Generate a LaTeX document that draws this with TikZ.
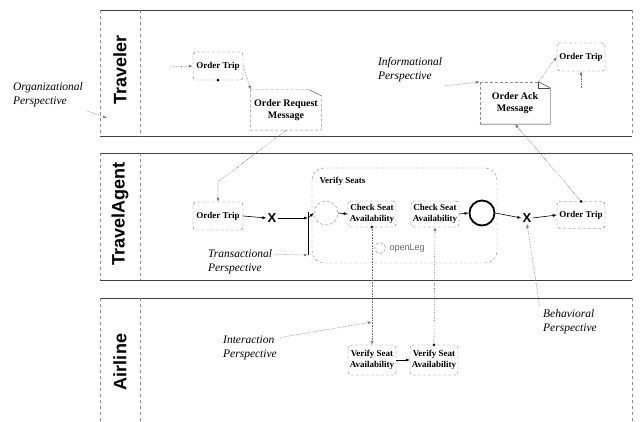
\documentclass[tikz,border=0pt]{standalone}
\usepackage{fontspec}
\setmainfont{Liberation Serif}
\setsansfont{Liberation Sans}
\usetikzlibrary{arrows.meta}
\begin{document}
\begin{tikzpicture}[x=1pt,y=-1pt,
  lane/.style={draw=black!75, line width=0.9pt},
  laneedge/.style={draw=black!45, dashed, line width=0.6pt},
  lanelabel/.style={font=\sffamily\bfseries\fontsize{18}{18}\selectfont, rotate=90},
  task/.style={draw=black!55, densely dashed, rounded corners=3pt, font=\bfseries\fontsize{9}{10.5}\selectfont, align=center, inner sep=1pt},
  msgdoc/.style={font=\bfseries\fontsize{10}{12}\selectfont, align=center, minimum width=68pt, minimum height=40pt},
  persp/.style={font=\itshape\fontsize{11.5}{14}\selectfont, align=left},
  flow/.style={draw=black, line width=0.6pt, -{Latex[length=4pt,width=3pt]}},
  msg/.style={draw=black!55, densely dotted, line width=0.6pt, -{Latex[length=4pt,width=3pt]}},
  assoc/.style={draw=black!50, densely dotted, line width=0.6pt, -{Latex[length=4pt,width=3pt]}},
  gw/.style={font=\sffamily\bfseries\fontsize{13}{13}\selectfont, inner sep=1pt},
  dotstart/.style={circle, fill=black, inner sep=0pt, minimum size=3pt}
]
\useasboundingbox (0,0) rectangle (640,422);
\fill[white] (0,0) rectangle (640,422);

% ---- lanes ----
\draw[lane] (100,10) -- (632,10);
\draw[lane] (100,136) -- (632,136);
\draw[laneedge] (100,10) -- (100,136);
\draw[laneedge] (140,10) -- (140,136);
\draw[laneedge] (632,10) -- (632,136);
\node[lanelabel] (lt) at (120,70) {Traveler};

\draw[lane] (100,153) -- (632,153);
\draw[lane] (100,280) -- (632,280);
\draw[laneedge] (100,153) -- (100,280);
\draw[laneedge] (140,153) -- (140,280);
\draw[laneedge] (632,153) -- (632,280);
\node[lanelabel] (la) at (120,214) {TravelAgent};

\draw[lane] (100,298) -- (632,298);
\draw[laneedge] (100,298) -- (100,422);
\draw[laneedge] (140,298) -- (140,422);
\draw[laneedge] (632,298) -- (632,422);
\node[lanelabel] (lair) at (120,362) {Airline};

% ---- Traveler ----
\node[task, minimum width=50pt, minimum height=28pt] (ot1) at (218,66) {Order Trip};
\coordinate (ot1in) at (170,67);
\draw[msg] (ot1in) -- (ot1.west);
\node[dotstart] (ot1d) at (ot1.south) {};

\node[msgdoc] (orm) at (286,110) {Order Request\\Message};
\draw[draw=black!45, densely dashed] (orm.north west) -- ([xshift=-12pt]orm.north east) -- ([yshift=-6pt]orm.north east) -- (orm.south east) -- (orm.south west) -- cycle;
\draw[black!70] ([xshift=-12pt]orm.north east) -- ([yshift=-6pt]orm.north east);
\draw[msg] (ot1.east) -- (orm.north west);

\node[persp] (pinf) at (410,70) {Informational\\Perspective};
\node[msgdoc, minimum width=70pt, minimum height=42pt] (oam) at (515,103) {Order Ack\\Message};
\draw[draw=black!45, densely dashed] (oam.north west) -- ([xshift=-12pt]oam.north east);
\draw[draw=black!45, densely dashed] (oam.north west) -- (oam.south west);
\draw[black!85] ([xshift=-12pt]oam.north east) -- ([yshift=-6pt]oam.north east) -- (oam.south east) -- (oam.south west);
\draw[black!70] ([xshift=-12pt]oam.north east) -- ([xshift=-12pt,yshift=-6pt]oam.north east) -- ([yshift=-6pt]oam.north east);
\draw[assoc] (pinf.south east) -- (oam.north west);

\node[task, minimum width=48pt, minimum height=28pt] (ot4) at (581,57) {Order Trip};
\draw[msg] ([xshift=-12pt]oam.north east) -- (ot4.west);

\node[persp] (porg) at (48,95) {Organizational\\Perspective};
\coordinate (orgpt) at (107,118);
\draw[assoc] (porg.south east) -- (orgpt);

% ---- TravelAgent ----
\node[task, minimum width=50pt, minimum height=28pt] (ot2) at (218,216) {Order Trip};
\coordinate (ormbend) at (218,182);
\draw[msg] (orm.south) -- (ormbend) -- (ot2.north);
\node[gw] (gw1) at (272,218) {X};
\coordinate (bartop) at (308,212);
\coordinate (barbot) at (308,255);
\coordinate (barmid) at (308,218);
\draw[flow] (ot2.east) -- (gw1.west);
\draw[flow] (gw1.east) -- (barmid);
\draw[black, line width=0.8pt] (bartop) -- (barbot);
\node[persp] (ptr) at (240,262) {Transactional\\Perspective};
\draw[assoc] ([yshift=-8pt]ptr.north east) -- (barbot);

\draw[draw=black!45, densely dashed, rounded corners=12pt] (312,168) rectangle (497,263);
\node[font=\bfseries\fontsize{9}{10}\selectfont, anchor=west] (vslbl) at (316,181) {Verify Seats};
\node[circle, draw=black!45, densely dashed, minimum size=24pt, inner sep=0pt] (se) at (326,213) {};
\draw[flow] (barmid) -- (se.west);
\node[task, minimum width=48pt, minimum height=26pt] (cs1) at (372,214) {Check Seat\\Availability};
\node[task, minimum width=48pt, minimum height=26pt] (cs2) at (435,214) {Check Seat\\Availability};
\node[circle, draw=black, line width=1.8pt, minimum size=25pt, inner sep=0pt] (ee) at (482,213) {};
\draw[flow] (se.east) -- (cs1.west);
\draw[flow] (cs2.east) -- (ee.west);
\node[gw] (gw2) at (527,218) {X};
\draw[flow] (ee.east) -- (gw2.west);
\node[task, minimum width=48pt, minimum height=27pt] (ot3) at (581,215) {Order Trip};
\draw[flow] (gw2.east) -- (ot3.west);
\node[dotstart] (ot3d) at (ot3.north) {};
\draw[msg] (ot3.north) -- (540,153) -- (oam.south);
\coordinate (ot4in) at (581,88);
\draw[msg] (ot4in) -- (ot4.south);

\node[circle, draw=black!45, densely dashed, minimum size=11pt, inner sep=0pt] (ol) at (380,248) {};
\node[font=\sffamily\fontsize{9}{10}\selectfont, text=black!60, anchor=west] (oltxt) at (386,248) {openLeg};

% ---- Airline ----
\node[task, minimum width=48pt, minimum height=30pt] (vs1) at (372,360) {Verify Seat\\Availability};
\node[task, minimum width=48pt, minimum height=30pt] (vs2) at (434,360) {Verify Seat\\Availability};
\draw[flow] (vs1.east) -- (vs2.west);
\node[dotstart] (cs1d) at (cs1.south) {};
\node[dotstart] (vs2d) at (vs2.north) {};
\draw[msg] (cs1.south) -- (vs1.north);
\draw[msg] (vs2.north) -- (cs2.south);

\node[persp] (pint) at (250,348) {Interaction\\Perspective};
\coordinate (intpt) at (372,322);
\draw[assoc] ([yshift=-5pt]pint.north east) -- (intpt);

\node[persp] (pbeh) at (570,322) {Behavioral\\Perspective};
\draw[assoc] (pbeh.north west) -- (gw2.south);
\end{tikzpicture}
\end{document}
